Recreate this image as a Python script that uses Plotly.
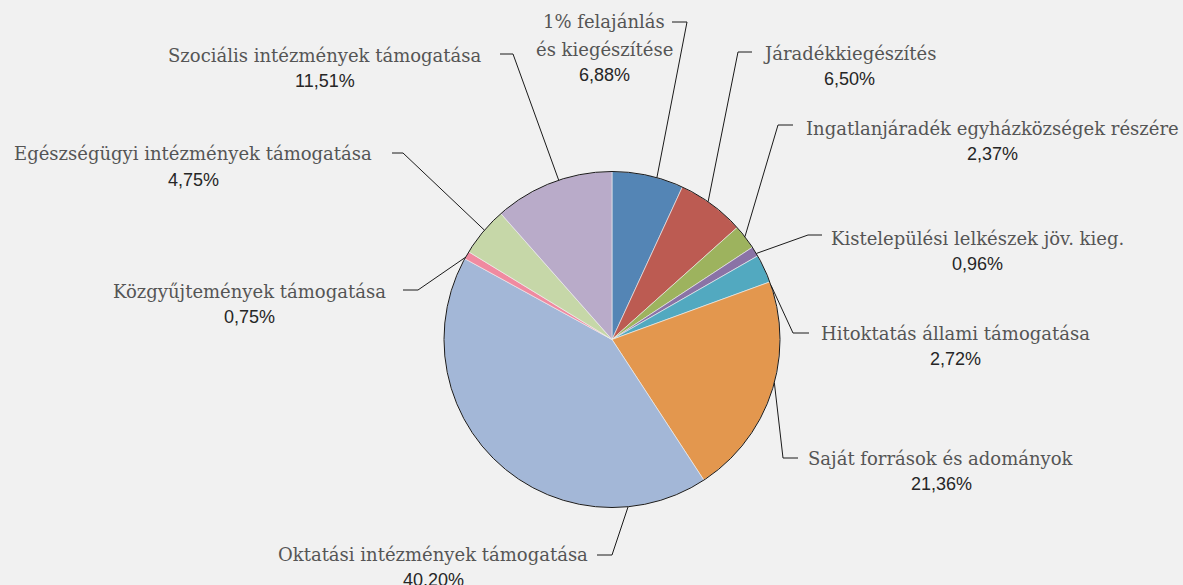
import math
import plotly.graph_objects as go

# ---------------- data ----------------
categories = [
    "1% felajánlás<br>és kiegészítése",
    "Járadékkiegészítés",
    "Ingatlanjáradék egyházközségek részére",
    "Kistelepülési lelkészek jöv. kieg.",
    "Hitoktatás állami támogatása",
    "Saját források és adományok",
    "Oktatási intézmények támogatása",
    "Közgyűjtemények támogatása",
    "Egészségügyi intézmények támogatása",
    "Szociális intézmények támogatása",
]
# share as printed in the labels
label_pct = [6.88, 6.50, 2.37, 0.96, 2.72, 21.36, 40.20, 0.75, 4.75, 11.51]
# slice size as drawn (education slice is drawn larger than its printed label)
slice_values = [6.88, 6.50, 2.37, 0.96, 2.72, 21.36, 42.20, 0.75, 4.75, 11.51]

colors = ["#5485b5", "#bc5b52", "#9db35e", "#8a73a6", "#52a9c0",
          "#e3974e", "#a3b7d7", "#f08aa0", "#c6d7a8", "#b9abc9"]

# ---------------- layout ----------------
W, H = 1183, 585
CX, CY, R = 612, 339.5, 168

# label layout: (text centre x, first text line y, tick start x, tick end x, tick y, touch angle deg)
label_layout = [
    (604, 22, 672, 687, 22, 15.5),
    (849, 53, 752, 738, 52, 34.9),
    (992, 128, 793, 778, 125, 52.3),
    (977, 238, 822, 808, 235, 59.2),
    (955, 333, 809, 793, 333, 71.2),
    (941, 458, 798, 783, 458, 104.9),
    (433, 554, 597, 612, 555, 174.5),
    (249, 291, 403, 418, 290, 299.3),
    (193, 154, 392, 403, 153, 310.6),
    (325, 55, 500, 513, 54, 341.5),
]

def px(x):
    return x / W

def py(y):
    return 1 - y / H

NAME_FONT = dict(family="DejaVu Serif", size=18, color="#555555")
PCT_FONT = dict(family="Liberation Sans", size=18, color="#262626")
LINE_GAP = 27

fig = go.Figure(go.Pie(
    labels=[c.replace("<br>", " ") for c in categories],
    values=slice_values,
    sort=False,
    direction="clockwise",
    rotation=0,
    textinfo="none",
    hoverinfo="label+percent",
    marker=dict(colors=colors, line=dict(color="#f1f1f1", width=0.6)),
    domain=dict(x=[px(CX - R), px(CX + R)], y=[py(CY + R), py(CY - R)]),
    showlegend=False,
))

shapes = [dict(type="circle", xref="paper", yref="paper",
               x0=px(CX - R), x1=px(CX + R), y0=py(CY + R), y1=py(CY - R),
               line=dict(color="#1a1a1a", width=1), fillcolor="rgba(0,0,0,0)")]
annotations = []
for name, pct, (tx, ty, t0, t1, tky, ang) in zip(categories, label_pct, label_layout):
    a = math.radians(ang)
    rx = CX + R * math.sin(a)
    ry = CY - R * math.cos(a)
    path = (f"M {px(t0)},{py(tky)} L {px(t1)},{py(tky)} L {px(rx)},{py(ry)}")
    shapes.append(dict(type="path", xref="paper", yref="paper", path=path,
                       line=dict(color="#1a1a1a", width=1)))
    lines = name.split("<br>")
    y = ty
    for ln in lines:
        annotations.append(dict(x=px(tx), y=py(y), xref="paper", yref="paper",
                                text=ln, showarrow=False, xanchor="center",
                                yanchor="middle", font=NAME_FONT))
        y += LINE_GAP
    annotations.append(dict(x=px(tx), y=py(y - 1), xref="paper", yref="paper",
                            text=f"{pct:.2f}%".replace(".", ","), showarrow=False,
                            xanchor="center", yanchor="middle", font=PCT_FONT))

fig.update_layout(
    width=W, height=H,
    margin=dict(l=0, r=0, t=0, b=0),
    paper_bgcolor="#f1f1f1",
    plot_bgcolor="#f1f1f1",
    shapes=shapes,
    annotations=annotations,
)

fig.write_html("out.html")
